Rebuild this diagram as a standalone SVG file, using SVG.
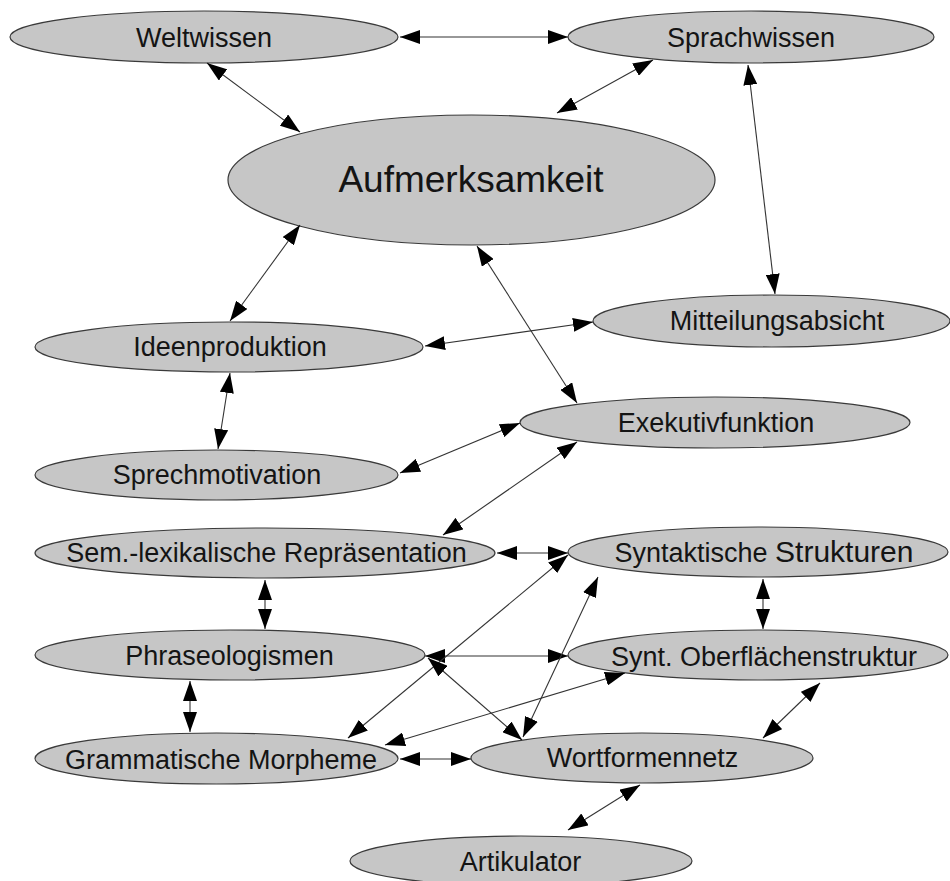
<svg xmlns="http://www.w3.org/2000/svg" width="950" height="881" viewBox="0 0 950 881">
  <style>
    .node ellipse { fill: #c6c6c6; stroke: #3a3a3a; stroke-width: 1.2; }
    .node text { font-family: "Liberation Sans", Arial, sans-serif; font-size: 27px; fill: #141414; text-anchor: middle; }
    .edges line { stroke: #333333; stroke-width: 1.1; marker-start: url(#arr); marker-end: url(#arr); }
  </style>
  <defs>
    <marker id="arr" markerUnits="userSpaceOnUse" markerWidth="20" markerHeight="14" viewBox="0 0 20 14" refX="20" refY="7" orient="auto-start-reverse">
      <path d="M0,0 L20,7 L0,14 z" fill="#000000"/>
    </marker>
  </defs>
  <rect x="0" y="0" width="950" height="881" fill="#ffffff"/>

  <g id="nodes">
    <g id="weltwissen" class="node"><ellipse cx="204" cy="37" rx="194" ry="26"/><text x="204" y="46.5">Weltwissen</text></g>
    <g id="sprachwissen" class="node"><ellipse cx="751" cy="37" rx="183" ry="26"/><text x="751" y="46.5">Sprachwissen</text></g>
    <g id="aufmerksamkeit" class="node"><ellipse cx="471.5" cy="180" rx="243.5" ry="65"/><text x="471" y="192" style="font-size:37px">Aufmerksamkeit</text></g>
    <g id="mitteilungsabsicht" class="node"><ellipse cx="771.5" cy="321" rx="178.5" ry="26"/><text x="777" y="330">Mitteilungsabsicht</text></g>
    <g id="ideenproduktion" class="node"><ellipse cx="229" cy="347" rx="194" ry="25"/><text x="230" y="356">Ideenproduktion</text></g>
    <g id="exekutivfunktion" class="node"><ellipse cx="715" cy="422.5" rx="195" ry="25.5"/><text x="716" y="432">Exekutivfunktion</text></g>
    <g id="sprechmotivation" class="node"><ellipse cx="216.5" cy="475" rx="181.5" ry="25"/><text x="217" y="483.5">Sprechmotivation</text></g>
    <g id="semlex" class="node"><ellipse cx="265" cy="553" rx="230" ry="25"/><text x="266.5" y="562">Sem.-lexikalische Repräsentation</text></g>
    <g id="syntaktische" class="node"><ellipse cx="758" cy="552" rx="190" ry="25"/><text x="764" y="562">Syntaktische <tspan style="font-size:30px">Strukturen</tspan></text></g>
    <g id="phraseologismen" class="node"><ellipse cx="230" cy="655" rx="195" ry="25"/><text x="229.5" y="665">Phraseologismen</text></g>
    <g id="oberflaeche" class="node"><ellipse cx="758" cy="655" rx="190" ry="25"/><text x="764" y="666">Synt. Oberflächenstruktur</text></g>
    <g id="grammatische" class="node"><ellipse cx="216.5" cy="758.5" rx="181.5" ry="25.5"/><text x="221" y="769">Grammatische Morpheme</text></g>
    <g id="wortformennetz" class="node"><ellipse cx="642" cy="758" rx="171" ry="25"/><text x="642.5" y="767">Wortformennetz</text></g>
    <g id="artikulator" class="node"><ellipse cx="521" cy="861" rx="171" ry="25"/><text x="520.5" y="871">Artikulator</text></g>
  </g>

  <g id="connectors" class="edges">
    <line x1="400" y1="37" x2="568" y2="37"/>
    <line x1="207" y1="63" x2="300" y2="132"/>
    <line x1="653" y1="60" x2="557" y2="113"/>
    <line x1="748" y1="65" x2="775" y2="294"/>
    <line x1="300" y1="225" x2="230" y2="321"/>
    <line x1="477" y1="246" x2="577" y2="403"/>
    <line x1="425" y1="346" x2="593" y2="322"/>
    <line x1="230" y1="373" x2="218" y2="449"/>
    <line x1="400" y1="473" x2="520" y2="423"/>
    <line x1="443" y1="535" x2="577" y2="442"/>
    <line x1="497" y1="553" x2="568" y2="553"/>
    <line x1="265" y1="580" x2="265" y2="629"/>
    <line x1="190" y1="681" x2="190" y2="732"/>
    <line x1="763" y1="579" x2="763" y2="629"/>
    <line x1="425" y1="656" x2="568" y2="656"/>
    <line x1="348" y1="738" x2="568" y2="555"/>
    <line x1="428" y1="658" x2="522" y2="740"/>
    <line x1="598" y1="577" x2="523" y2="737"/>
    <line x1="385" y1="745" x2="625" y2="673"/>
    <line x1="400" y1="759" x2="471" y2="759"/>
    <line x1="763" y1="738" x2="820" y2="683"/>
    <line x1="640" y1="785" x2="568" y2="830"/>
  </g>
</svg>
